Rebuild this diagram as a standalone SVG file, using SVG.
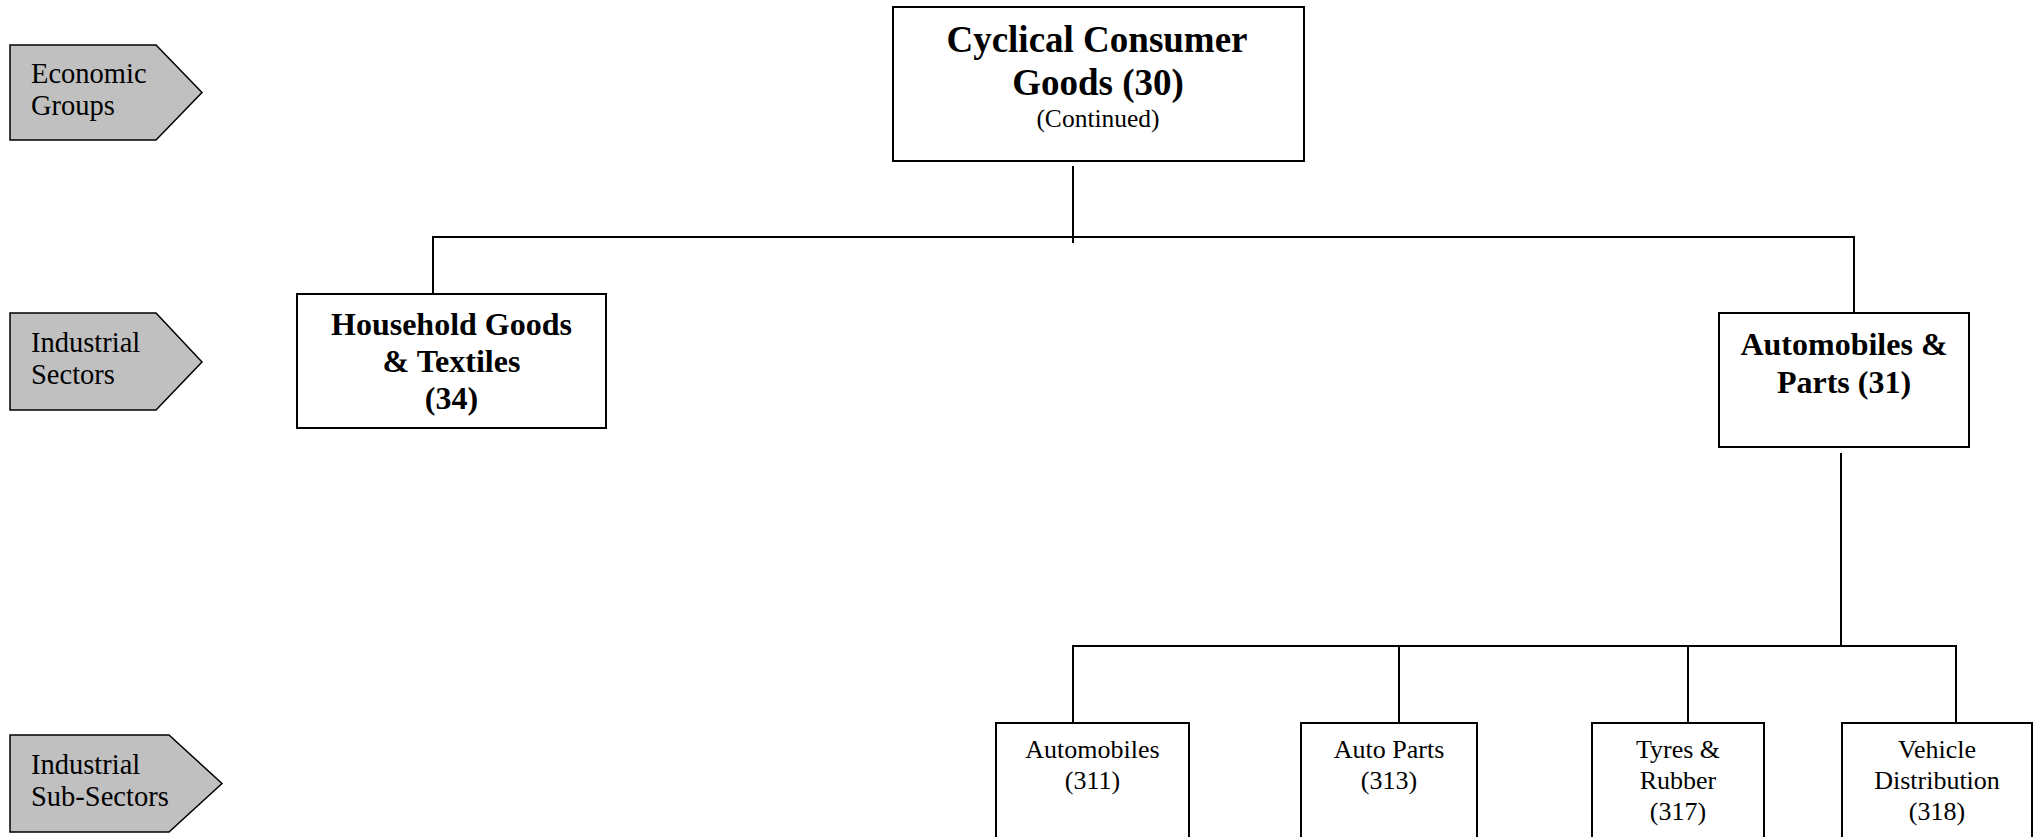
<svg xmlns="http://www.w3.org/2000/svg" width="2044" height="837" viewBox="0 0 2044 837">
<style>
.box{fill:#fff;stroke:#000;stroke-width:2}
.tag{fill:#c0c0c0;stroke:#000;stroke-width:1.5}
.tt{font-family:"Liberation Serif","Times New Roman",serif;font-size:28.5px;fill:#000}
.b{font-family:"Liberation Serif","Times New Roman",serif;font-weight:bold;fill:#000;text-anchor:middle}
.r{font-family:"Liberation Serif","Times New Roman",serif;fill:#000;text-anchor:middle}
.ln{fill:none;stroke:#000;stroke-width:2}
</style>
<rect width="2044" height="837" fill="#fff"/>
<g id="tag-economic-groups">
<polygon class="tag" points="10,45 156,45 202,92.5 156,140 10,140"/>
<text class="tt" x="31" y="83">Economic</text>
<text class="tt" x="31" y="115">Groups</text>
</g>
<g id="tag-industrial-sectors">
<polygon class="tag" points="10,313 156,313 202,362 156,410 10,410"/>
<text class="tt" x="31" y="352">Industrial</text>
<text class="tt" x="31" y="384">Sectors</text>
</g>
<g id="tag-industrial-sub-sectors">
<polygon class="tag" points="10,735 169,735 222,783.5 169,832 10,832"/>
<text class="tt" x="31" y="774">Industrial</text>
<text class="tt" x="31" y="806">Sub-Sectors</text>
</g>
<g id="connectors">
<path class="ln" d="M1073,166 V243"/>
<path class="ln" d="M433,294 V237 H1854 V313"/>
<path class="ln" d="M1841,453 V646"/>
<path class="ln" d="M1073,723 V646 H1956 V723"/>
<path class="ln" d="M1399,646 V723"/>
<path class="ln" d="M1688,646 V723"/>
</g>
<g id="node-30">
<rect class="box" x="893" y="7" width="411" height="154"/>
<text class="b" x="1097" y="52" font-size="37">Cyclical Consumer</text>
<text class="b" x="1098" y="95" font-size="37">Goods (30)</text>
<text class="r" x="1098" y="127" font-size="25.5">(Continued)</text>
</g>
<g id="node-34">
<rect class="box" x="297" y="294" width="309" height="134"/>
<text class="b" x="451.5" y="335" font-size="32">Household Goods</text>
<text class="b" x="451.5" y="372" font-size="32">&amp; Textiles</text>
<text class="b" x="451.5" y="409" font-size="32">(34)</text>
</g>
<g id="node-31">
<rect class="box" x="1719" y="313" width="250" height="134"/>
<text class="b" x="1844" y="355" font-size="32">Automobiles &amp;</text>
<text class="b" x="1844" y="393" font-size="32">Parts (31)</text>
</g>
<g id="node-311">
<rect class="box" x="996" y="723" width="193" height="140"/>
<text class="r" x="1092.5" y="758" font-size="26">Automobiles</text>
<text class="r" x="1092.5" y="789" font-size="26">(311)</text>
</g>
<g id="node-313">
<rect class="box" x="1301" y="723" width="176" height="140"/>
<text class="r" x="1389" y="758" font-size="26">Auto Parts</text>
<text class="r" x="1389" y="789" font-size="26">(313)</text>
</g>
<g id="node-317">
<rect class="box" x="1592" y="723" width="172" height="140"/>
<text class="r" x="1678" y="758" font-size="26">Tyres &amp;</text>
<text class="r" x="1678" y="789" font-size="26">Rubber</text>
<text class="r" x="1678" y="820" font-size="26">(317)</text>
</g>
<g id="node-318">
<rect class="box" x="1842" y="723" width="190" height="140"/>
<text class="r" x="1937" y="758" font-size="26">Vehicle</text>
<text class="r" x="1937" y="789" font-size="26">Distribution</text>
<text class="r" x="1937" y="820" font-size="26">(318)</text>
</g>
</svg>
